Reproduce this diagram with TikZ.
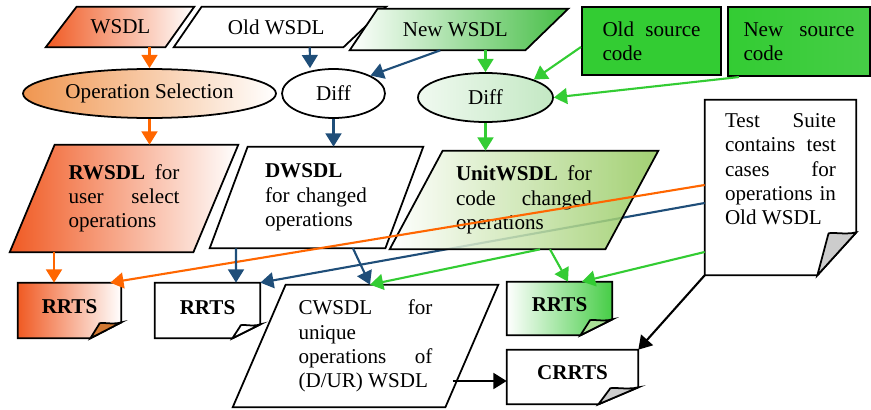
\documentclass[tikz,border=0pt]{standalone}
\usepackage{fontspec}
\setmainfont{Liberation Serif}
\usetikzlibrary{shapes.geometric,arrows.meta}
\pgfdeclarelayer{background}
\pgfsetlayers{background,main}

\definecolor{orgred}{RGB}{240,90,35}
\definecolor{orglight}{RGB}{240,150,80}
\definecolor{orgarrow}{RGB}{255,102,0}
\definecolor{bluearrow}{RGB}{31,78,121}
\definecolor{greenarrow}{RGB}{51,204,51}
\definecolor{srcgreen}{RGB}{51,204,51}
\definecolor{newgreen}{RGB}{70,190,70}
\definecolor{diffgreen}{RGB}{195,232,195}
\definecolor{unitgreen}{RGB}{146,200,90}
\definecolor{rrtsgreen}{RGB}{70,205,70}
\definecolor{flaporange}{RGB}{210,120,50}
\definecolor{flapgreen}{RGB}{170,225,150}
\definecolor{flapgray}{RGB}{204,204,204}

\AtBeginDocument{\fontsize{12}{13.8}\selectfont\hyphenpenalty=10000\tolerance=10000}

\tikzset{
  paranode/.style={rectangle, inner sep=2pt},
  oval/.style={ellipse, draw, line width=1pt, inner sep=0pt},
  srcbox/.style={rectangle, draw, line width=1.2pt, fill=srcgreen, align=justify},
  docnode/.style={rectangle, inner sep=0pt, font=\bfseries},
  docline/.style={line width=1pt},
  arr/.style={-{Triangle[length=7.5pt,width=9pt]}, line width=1.2pt},
}

% #1 node, #2 left slant, #3 right slant, #4 fill
\newcommand{\paraframe}[4]{%
  \begin{pgfonlayer}{background}
    \draw[docline,#4] ([xshift={-0.5*#2}]#1.south west) -- ([xshift={0.5*#2}]#1.north west)
      -- ([xshift={0.5*#3}]#1.north east) -- ([xshift={-0.5*#3}]#1.south east) -- cycle;
  \end{pgfonlayer}}

% #1 node, #2 fold width, #3 fold height, #4 body fill, #5 flap colour
\newcommand{\foldcorner}[5]{%
  \begin{pgfonlayer}{background}
    \draw[docline,#4] (#1.north west) -- (#1.north east) -- ([yshift=#3]#1.south east)
      -- ([xshift=-#2]#1.south east) -- (#1.south west) -- cycle;
    \draw[docline,fill=#5] ([xshift=-#2]#1.south east)
      -- ([xshift={-0.72*#2},yshift={#3-0.04cm}]#1.south east)
      .. controls ([xshift={-0.74*#2},yshift={#3+0.03cm}]#1.south east)
         and ([xshift={-0.3*#2},yshift={#3-0.06cm}]#1.south east) .. ([yshift=#3]#1.south east) -- cycle;
  \end{pgfonlayer}}

\begin{document}
\begin{tikzpicture}[x=0.02cm, y=-0.02cm]
\useasboundingbox (0,0) rectangle (871,409);

\node[paranode, minimum width=2.36cm, minimum height=0.8cm] (wsdl) at (120.5,27) {WSDL};
\node[paranode, minimum width=3.53cm, minimum height=0.8cm] (oldw) at (276.25,27) {Old WSDL};
\node[paranode, minimum width=3.65cm, minimum height=0.82cm] (neww) at (455.25,29.5) {New WSDL};
\node[srcbox, minimum width=2.78cm, minimum height=1.36cm, text width=1.96cm] (oldsrc) at (651.5,41) {Old source code};
\node[srcbox, minimum width=2.84cm, minimum height=1.38cm, text width=2.22cm, left color=srcgreen, right color=rrtsgreen] (newsrc) at (799,41.5) {New source code};

\node[oval, minimum width=5.06cm, minimum height=0.98cm, left color=orglight, right color=white] (opsel) at (149.5,93.5) {Operation Selection};
\node[oval, minimum width=2.06cm, minimum height=0.98cm, fill=white] (diffA) at (333.5,93.5) {Diff};
\node[oval, minimum width=2.7cm, minimum height=0.98cm, left color=diffgreen!25, right color=diffgreen] (diffB) at (485.5,97.5) {Diff};

\node[paranode, minimum width=3.66cm, minimum height=2.14cm, text width=2.22cm, align=justify] (rwsdl) at (124,198.5) {\textbf{RWSDL} for user select operations};
\node[paranode, minimum width=3.5cm, minimum height=2.02cm, text width=2.06cm, align=left] (dwsdl) at (316.5,197.5) {\textbf{DWSDL}\\for changed\\operations};
\node[paranode, minimum width=4.3cm, minimum height=1.96cm, text width=2.72cm, align=justify] (unit) at (524,200) {\textbf{UnitWSDL} for code changed operations};
\node[paranode, minimum width=4.24cm, minimum height=2.44cm, text width=2.68cm, align=justify] (cwsdl) at (365.5,346) {CWSDL for\linebreak unique\linebreak operations of\linebreak (D/UR) WSDL};

\node[rectangle, minimum width=3.02cm, minimum height=3.5cm, inner sep=0pt] (tsuite) at (780.5,187.5) {\parbox[c][2.95cm][t]{2.22cm}{Test Suite contains test cases for operations in Old WSDL}};
\node[docnode, minimum width=2.06cm, minimum height=1.1cm] (rrtsA) at (69.5,310.5) {\raisebox{0.16cm}{RRTS}};
\node[docnode, minimum width=2.1cm, minimum height=1.1cm] (rrtsB) at (207.5,310.5) {\raisebox{0.12cm}{RRTS}\hspace{0.14cm}};
\node[docnode, minimum width=2.1cm, minimum height=1.06cm] (rrtsC) at (559.5,308.5) {\raisebox{0.16cm}{RRTS}\hspace{0.16cm}};
\node[docnode, minimum width=2.62cm, minimum height=1.08cm] (crrts) at (572.5,377) {\raisebox{0.18cm}{CRRTS}\hspace{0.38cm}};

\paraframe{wsdl}{0.62cm}{0.58cm}{left color=orgred, right color=white}
\paraframe{oldw}{0.56cm}{0.86cm}{fill=white}
\paraframe{neww}{0.56cm}{0.86cm}{left color=white, right color=newgreen}
\paraframe{rwsdl}{0.9cm}{0.9cm}{left color=orgred, right color=white}
\paraframe{dwsdl}{0.76cm}{0.76cm}{fill=white}
\paraframe{cwsdl}{1.06cm}{1.06cm}{fill=white}

\foldcorner{tsuite}{0.78cm}{0.86cm}{fill=white}{flapgray}
\foldcorner{rrtsA}{0.62cm}{0.32cm}{left color=orgred, right color=white}{flaporange}
\foldcorner{rrtsB}{0.56cm}{0.28cm}{fill=white}{white}
\foldcorner{rrtsC}{0.64cm}{0.32cm}{left color=white, right color=rrtsgreen}{flapgreen}
\foldcorner{crrts}{0.8cm}{0.34cm}{fill=white}{flapgray}

\begin{pgfonlayer}{background}
\draw[arr, bluearrow] ([yshift=-0.31cm]tsuite.west) -- (rrtsB.north east);
\end{pgfonlayer}
\paraframe{unit}{1.06cm}{1.06cm}{left color=white, right color=unitgreen, fill opacity=0.85}

\draw[arr, orgarrow] (opsel.north |- wsdl.south) -- (opsel.north);
\draw[arr, orgarrow] (opsel.south) -- (opsel.south |- rwsdl.north);
\draw[arr, orgarrow] ([xshift=-0.31cm]rrtsA.north |- rwsdl.south) -- ([xshift=-0.31cm]rrtsA.north);
\draw[arr, orgarrow] ([yshift=0.05cm]tsuite.west) -- ([xshift=-0.22cm]rrtsA.north east);

\draw[arr, bluearrow] ([xshift=0.67cm]oldw.south) -- ([xshift=-0.47cm]diffA.north);
\draw[arr, bluearrow] ([xshift=-0.3cm]neww.south) -- (diffA.north east);
\draw[arr, bluearrow] (diffA.south) -- (diffA.south |- dwsdl.north);
\draw[arr, bluearrow] ([xshift=-1.61cm]dwsdl.south) -- ([xshift=0.57cm]rrtsB.north);
\draw[arr, bluearrow] ([xshift=0.73cm]dwsdl.south) -- ([xshift=0.09cm]cwsdl.north);

\draw[arr, greenarrow] (diffB.north |- neww.south) -- (diffB.north);
\draw[arr, greenarrow] ([yshift=-0.12cm]oldsrc.west) -- (diffB.north east);
\draw[arr, greenarrow] ([xshift=0.24cm]newsrc.south west) -- (diffB.east);
\draw[arr, greenarrow] (diffB.south) -- (diffB.south |- unit.north);
\draw[arr, greenarrow] ([xshift=0.52cm]unit.south) -- ([xshift=0.17cm]rrtsC.north);
\draw[arr, greenarrow] ([xshift=0.32cm]unit.south) -- ([xshift=0.09cm]cwsdl.north);
\draw[arr, greenarrow] ([yshift=-1.29cm]tsuite.west) -- ([xshift=0.45cm]rrtsC.north);

\draw[arr] (tsuite.south west) -- (crrts.north east);
\draw[arr] ([xshift=-1.08cm,yshift=-0.08cm]crrts.west) -- ([yshift=-0.08cm]crrts.west);
\end{tikzpicture}
\end{document}
